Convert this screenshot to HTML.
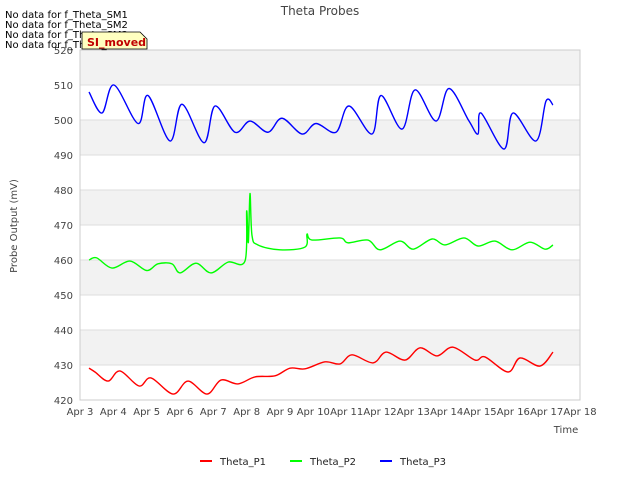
<!DOCTYPE html>
<html><head><meta charset="utf-8"><style>
body{margin:0;background:#fff;font-family:"DejaVu Sans",sans-serif}
svg text{font-family:"DejaVu Sans",sans-serif}
</style></head><body>
<svg id="c" width="640" height="480">
<text x="320" y="15" text-anchor="middle" font-size="12" fill="#444">Theta Probes</text>
<g id="bands"></g><g id="axes"></g><g id="series"></g>
<text transform="translate(17,226) rotate(-90)" text-anchor="middle" font-size="10" fill="#444">Probe Output (mV)</text>
<text x="566" y="433" text-anchor="middle" font-size="10" fill="#444">Time</text>
<g font-size="10" fill="#000">
<text x="5" y="18">No data for f_Theta_SM1</text>
<text x="5" y="28">No data for f_Theta_SM2</text>
<text x="5" y="38">No data for f_Theta_SM3</text>
<text x="5" y="48">No data for f_Theta_SM4</text>
</g>
<g>
<path d="M82,32 L140,32 L147,39 L147,49 L82,49 Z" fill="#ffffc0" stroke="#000" stroke-width="0.8"/>
<text x="87" y="46" font-size="11" fill="#c00000" font-weight="bold">SI_moved</text>
</g>
<g id="legend"></g>
</svg>
<script>
const yTicks=[420,430,440,450,460,470,480,490,500,510,520];
const xTickLabels=["Apr 3","Apr 4","Apr 5","Apr 6","Apr 7","Apr 8","Apr 9","Apr 10","Apr 11","Apr 12","Apr 13","Apr 14","Apr 15","Apr 16","Apr 17","Apr 18"];
const xTickDays=[3,4,5,6,7,8,9,10,11,12,13,14,15,16,17,18];
const p1Days=[3.27,3.45,3.84,4.2,4.77,5.13,5.79,6.24,6.81,7.23,7.74,8.25,8.85,9.3,9.75,10.35,10.8,11.16,11.79,12.18,12.75,13.2,13.71,14.19,14.85,15.15,15.84,16.2,16.8,17.19];
const p1Vals=[429.1,428,425.4,428.3,424,426.3,421.7,425.4,421.7,425.7,424.6,426.6,426.9,429.1,428.9,430.9,430.3,432.9,430.6,433.7,431.4,434.9,432.6,435.1,431.4,432.3,428,432,429.7,433.7];
const p2Days=[3.27,3.5,3.96,4.5,5.0,5.34,5.76,6.0,6.48,6.93,7.44,7.95,8.0,8.05,8.1,8.16,8.34,9.0,9.75,9.81,9.96,10.8,11.04,11.64,12.0,12.6,13.0,13.56,13.95,14.52,14.94,15.45,15.96,16.5,16.95,17.19];
const p2Vals=[460,460.6,457.7,459.7,457,458.9,458.9,456.3,459.1,456.3,459.4,459.7,474,465,479,467,464.3,462.9,463.7,467.4,465.7,466.3,464.9,465.7,462.9,465.4,463.1,466,464.3,466.3,464,465.4,462.9,465.1,463.1,464.3];
const p3Days=[3.27,3.66,4.02,4.74,5.04,5.7,6.06,6.72,7.05,7.65,8.1,8.64,9.06,9.66,10.08,10.68,11.07,11.76,12.03,12.66,13.05,13.68,14.07,14.67,14.94,15.03,15.72,15.99,16.68,16.98,17.19];
const p3Vals=[508,502,510,499,507,494,504.5,493.5,504,496.5,499.7,496.5,500.5,496,499,496.5,504,496,507,497.4,508.6,499.7,509,499.7,496,502,491.7,502,494,505.4,504.3];
const X=d=>80+(d-3)*500/15, Y=v=>400-(v-420)*3.5;
const NS="http://www.w3.org/2000/svg";
function mk(p,t,a){const e=document.createElementNS(NS,t);for(const k in a)e.setAttribute(k,a[k]);p.appendChild(e);return e;}
const bands=document.getElementById('bands'),axes=document.getElementById('axes'),ser=document.getElementById('series');
let bg=mk(bands,'rect',{x:80,y:50,width:500,height:350,fill:'#fff'});


for(let i=0;i<yTicks.length-1;i++){if(i%2==1){let r=mk(bands,'rect',{x:80,y:Y(yTicks[i+1]),width:500,height:Y(yTicks[i])-Y(yTicks[i+1]),fill:'#f2f2f2'});

}}
yTicks.forEach(v=>{let l=mk(axes,'line',{x1:80,x2:580,y1:Y(v),y2:Y(v),stroke:'#ddd'});


let t=mk(axes,'text',{x:73,y:Y(v)+4,'text-anchor':'end','font-size':10,fill:'#444'});t.textContent=v;

});
xTickDays.forEach((d,i)=>{let t=mk(axes,'text',{x:X(d),y:415,'text-anchor':'middle','font-size':10,fill:'#444'});t.textContent=xTickLabels[i];

});
let fr=mk(axes,'rect',{x:80,y:50,width:500,height:350,fill:'none',stroke:'#ccc'});


function path(ds,vs){const p=ds.map((d,i)=>[X(d),Y(vs[i])]);let s=`M${p[0][0]},${p[0][1]}`;
for(let i=0;i<p.length-1;i++){const a=p[Math.max(0,i-1)],b=p[i],c=p[i+1],e=p[Math.min(p.length-1,i+2)];
s+=` C${b[0]+(c[0]-a[0])/6},${b[1]+(c[1]-a[1])/6} ${c[0]-(e[0]-b[0])/6},${c[1]-(e[1]-b[1])/6} ${c[0]},${c[1]}`;}return s;}
const S=[["Theta_P1","#ff0000",p1Days,p1Vals],["Theta_P2","#00ff00",p2Days,p2Vals],["Theta_P3","#0000ff",p3Days,p3Vals]];
S.forEach((s,i)=>{let p=mk(ser,'path',{d:path(s[2],s[3]),fill:'none',stroke:s[1],'stroke-width':1.4});


const lg=document.getElementById('legend');const lx=200+i*90;
let l=mk(lg,'line',{x1:lx,x2:lx+12,y1:461,y2:461,stroke:s[1],'stroke-width':2});


let t=mk(lg,'text',{x:lx+20,y:465,'font-size':10,fill:'#222'});t.textContent=s[0];

});
</script>
</body></html>
